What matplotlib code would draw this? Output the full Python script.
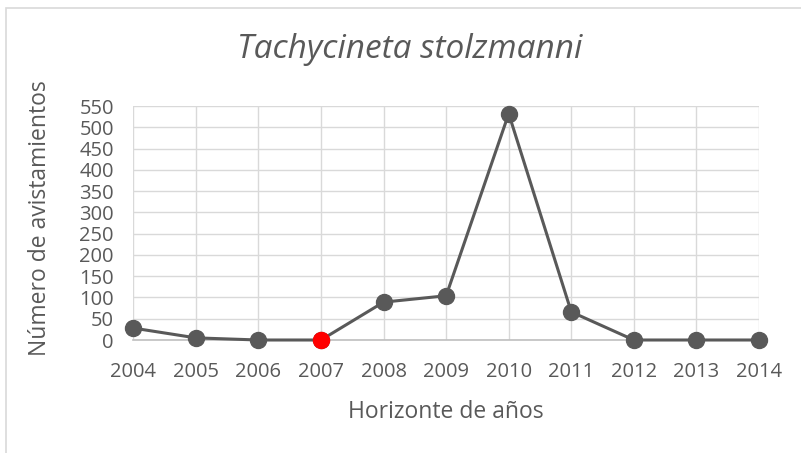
import matplotlib
matplotlib.use('Agg')
import matplotlib.pyplot as plt
from matplotlib.patches import Rectangle

years = [2004, 2005, 2006, 2007, 2008, 2009, 2010, 2011, 2012, 2013, 2014]
sightings = [28, 5, 0, 0, 89, 104, 532, 66, 0, 0, 0]
highlight_year = 2007
y_ticks = list(range(0, 551, 50))

text_color = '#595959'
line_color = '#595959'
grid_color = '#d9d9d9'

plt.rcParams['font.family'] = ['Open Sans', 'DejaVu Sans']

W, H = 801, 453
fig = plt.figure(figsize=(W / 100, H / 100), dpi=100)
# chart border (right and bottom edges fall outside the image)
fig.patches.append(Rectangle((6 / W, -0.1), 1.2, 1.1 - 8 / H, transform=fig.transFigure,
                             fill=False, edgecolor='#d9d9d9', linewidth=1.2))

ax = fig.add_axes([133.3 / W, 1 - 340 / H, (759 - 133.3) / W, (340 - 106) / H])

ax.plot(years, sightings, color=line_color, linewidth=2.2, marker='o',
        markersize=11.5, markerfacecolor=line_color, markeredgecolor=line_color,
        clip_on=False, zorder=3)
i = years.index(highlight_year)
ax.plot([years[i]], [sightings[i]], 'o', color='#ff0000', markersize=11.5,
        clip_on=False, zorder=4)

ax.set_xlim(years[0], years[-1])
ax.set_ylim(0, 550)
ax.set_xticks(years)
ax.set_yticks(y_ticks)
ax.grid(True, color=grid_color, linewidth=1.0)
ax.set_axisbelow(True)
for side in ['top', 'right', 'left']:
    ax.spines[side].set_visible(False)
ax.spines['bottom'].set_color('#bfbfbf')
ax.spines['bottom'].set_linewidth(1.2)
ax.tick_params(axis='both', length=0, labelsize=14.5, colors=text_color)
ax.tick_params(axis='x', pad=16)
ax.tick_params(axis='y', pad=14)

fig.text(446 / W, 1 - 412 / H, 'Horizonte de años', fontsize=16.5, color=text_color,
         ha='center', va='center')
fig.text(40 / W, 1 - 218 / H, 'Número de avistamientos', fontsize=16.5, color=text_color,
         ha='center', va='center', rotation=90)
fig.text(410 / W, 1 - 50 / H, 'Tachycineta stolzmanni',
         fontsize=24, style='italic', color=text_color, ha='center', va='center')

fig.savefig('out.png', dpi=100)
